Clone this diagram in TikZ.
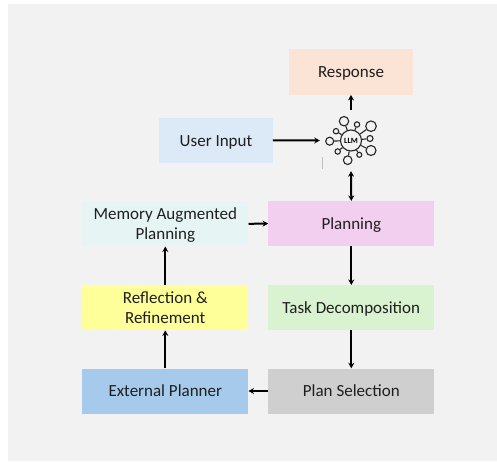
\documentclass[tikz,border=0pt]{standalone}
\usepackage{fontspec}
\setmainfont{Carlito}
\usetikzlibrary{arrows.meta}
\definecolor{backgray}{HTML}{F2F2F2}
\definecolor{responsecol}{HTML}{FBE3D6}
\definecolor{inputcol}{HTML}{DCE9F6}
\definecolor{planningcol}{HTML}{F2CEEF}
\definecolor{memorycol}{HTML}{E6F5F4}
\definecolor{reflectcol}{HTML}{FFFF99}
\definecolor{taskcol}{HTML}{D9F2D0}
\definecolor{selectcol}{HTML}{CFCFCF}
\definecolor{externalcol}{HTML}{A6CAEC}
\tikzset{
  stepbox/.style={inner sep=0pt,align=center,text=black!88,text height=11.4pt,text depth=0pt,
    font=\fontsize{17}{19.3}\selectfont,minimum width=166pt,minimum height=45pt},
  twolines/.style={stepbox,text height=30.6pt},
  smallbox/.style={stepbox,minimum width=123.5pt,minimum height=45.5pt},
  link/.style={draw,line width=2pt,-{Stealth[length=5.5pt,width=6pt]}},
  twolink/.style={draw,line width=2pt,{Stealth[length=5.5pt,width=6pt]}-{Stealth[length=5.5pt,width=6pt]}},
  netline/.style={draw=black!85,line width=1.1pt}}

\begin{document}
\begin{tikzpicture}[x=1pt,y=-1pt]
  \useasboundingbox (0,0) rectangle (497,461);
  \fill [backgray] (8,4) rectangle (497,461);
  \node [smallbox,fill=responsecol] (response) at (351,72) {Response};
  \node [smallbox,fill=inputcol,minimum width=113.5pt] (input) at (216,140.3) {User Input};
  \node [stepbox,fill=planningcol] (planning) at (351.3,223.6) {Planning};
  \node [twolines,fill=memorycol] (memory) at (165.3,223.8) {Memory Augmented\\Planning};
  \node [twolines,fill=reflectcol] (reflect) at (165.3,307.7) {Reflection \&\\Refinement};
  \node [stepbox,fill=taskcol] (task) at (351.3,307.7) {Task Decomposition};
  \node [stepbox,fill=selectcol] (select) at (351.3,391) {Plan Selection};
  \node [stepbox,fill=externalcol] (external) at (165.3,391) {External Planner};
  % LLM icon
  \node [inner sep=0pt,minimum width=62pt,minimum height=61pt] (llm) at (351,140.5) {};
  \node [circle,netline,fill=backgray,inner sep=0pt,minimum size=21pt,font=\fontsize{8}{8}\selectfont\bfseries] (core) at (llm) {LLM};
  \foreach \dx/\dy/\rad in {-7/-19.3/4.7,6/-16/2.7,20/-14.3/5.3,19/-2/3,20/10/5,8.3/14.3/2.5,-3.3/19.7/4.3,-13.3/11/2.7,-21.3/0.7/4,-15/-9.3/2.7} {
    \node [circle,netline,inner sep=0pt,minimum size=2*\rad pt] (sat) at ([shift={(\dx,\dy)}]core.center) {};
    \draw [netline] (core) -- (sat);
  }
  \coordinate (tickup) at (322,157);
  \coordinate (tickdown) at (322,169);
  \draw [black!25,line width=1pt] (tickup) -- (tickdown);
  % connectors
  \draw [link] (llm.north) -- (response.south);
  \draw [link] (input.east) -- (llm.west);
  \draw [twolink] (llm.south) -- (planning.north);
  \draw [link] (memory.east) -- (planning.west);
  \draw [link] (planning.south) -- (task.north);
  \draw [link] (task.south) -- (select.north);
  \draw [link] (select.west) -- (external.east);
  \draw [link] (external.north) -- (reflect.south);
  \draw [link] (reflect.north) -- (memory.south);
\end{tikzpicture}
\end{document}
